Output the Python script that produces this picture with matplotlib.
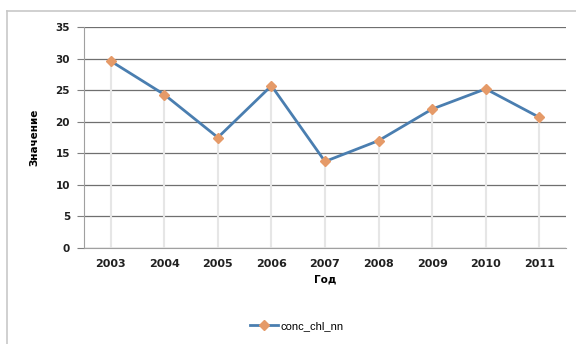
import matplotlib
matplotlib.use("Agg")
import matplotlib.pyplot as plt
from matplotlib.lines import Line2D

years = ["2003", "2004", "2005", "2006", "2007", "2008", "2009", "2010", "2011"]
values = [29.6, 24.3, 17.5, 25.7, 13.7, 17.0, 22.0, 25.2, 20.7]
yticks = [0, 5, 10, 15, 20, 25, 30, 35]

fig = plt.figure(figsize=(5.76, 3.44), dpi=100)
fig.patch.set_facecolor("white")
# outer chart frame (only top and left visible)
fig.lines.append(Line2D([7/576, 1.0], [1 - 11/344, 1 - 11/344], transform=fig.transFigure,
                        color="#c8c8c8", linewidth=1.2))
fig.lines.append(Line2D([7/576, 7/576], [0, 1 - 11/344], transform=fig.transFigure,
                        color="#c8c8c8", linewidth=1.2))

ax = fig.add_axes([84/576, 1 - 248/344, (566 - 84)/576, (248 - 27)/344])
x = list(range(len(years)))

# vertical drop lines
ax.vlines(x, 0, values, colors="#e6e6e6", linewidth=1.5, zorder=1)

ax.plot(x, values, color="#4a7eb0", linewidth=2, marker="D", markersize=5,
        markerfacecolor="#e59a68", markeredgecolor="#e59a68", zorder=3,
        label="conc_chl_nn")

ax.set_xlim(-0.5, len(years) - 0.5)
ax.set_ylim(0, 35)
ax.set_yticks(yticks)
ax.set_xticks(x)
ax.set_xticklabels(years)
ax.grid(axis="y", color="#6f6f6f", linewidth=0.9, zorder=0)
ax.set_axisbelow(True)
for s in ["top", "right"]:
    ax.spines[s].set_visible(False)
ax.spines["left"].set_color("#a0a0a0")
ax.spines["bottom"].set_color("#a0a0a0")
ax.tick_params(axis="y", length=5, color="#7f7f7f", labelsize=7.5, pad=5)
ax.tick_params(axis="x", length=0, labelsize=8, pad=8)
for lbl in ax.get_xticklabels() + ax.get_yticklabels():
    lbl.set_fontweight("bold")
    lbl.set_color("#202020")

ax.set_xlabel("Год", fontsize=7.5, fontweight="bold", labelpad=4)
ax.set_ylabel("Значение", fontsize=7.5, fontweight="bold", labelpad=12)

fig.legend(loc="center", bbox_to_anchor=(297/576, 1 - 326/344), frameon=False,
           handlelength=2.5, handletextpad=0.3,
           prop={"family": "Liberation Sans", "size": 8})

fig.savefig("out.png", dpi=100)
